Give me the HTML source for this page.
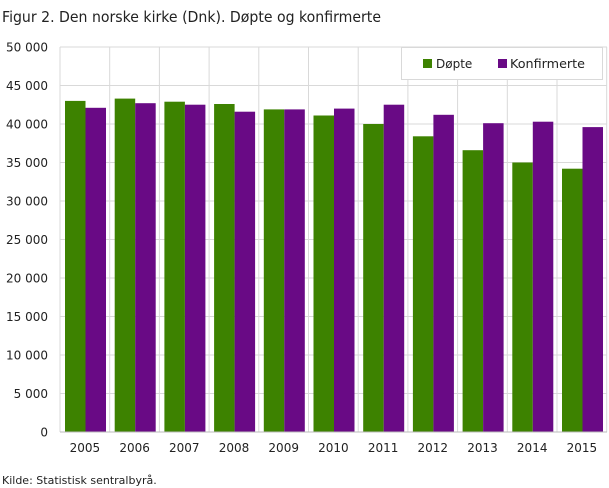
<!DOCTYPE html>
<html><head><meta charset="utf-8"><style>body{margin:0;background:#fff;}</style></head>
<body>
<svg width="609" height="488" xmlns="http://www.w3.org/2000/svg" font-family="DejaVu Sans, Liberation Sans, sans-serif" style="display:block">
<text x="2" y="22" font-size="15" fill="#222" textLength="379" lengthAdjust="spacingAndGlyphs">Figur 2. Den norske kirke (Dnk). Døpte og konfirmerte</text>
<g stroke="#d9d9d9">
<line x1="60" x2="607" y1="393.5" y2="393.5"/><line x1="60" x2="607" y1="355" y2="355"/><line x1="60" x2="607" y1="316.5" y2="316.5"/><line x1="60" x2="607" y1="278" y2="278"/><line x1="60" x2="607" y1="239.5" y2="239.5"/><line x1="60" x2="607" y1="201" y2="201"/><line x1="60" x2="607" y1="162.5" y2="162.5"/><line x1="60" x2="607" y1="124" y2="124"/><line x1="60" x2="607" y1="85.5" y2="85.5"/><line x1="60" x2="607" y1="47" y2="47"/>
<line x1="60" x2="60" y1="47" y2="432"/><line x1="109.7" x2="109.7" y1="47" y2="432"/><line x1="159.4" x2="159.4" y1="47" y2="432"/><line x1="209.1" x2="209.1" y1="47" y2="432"/><line x1="258.8" x2="258.8" y1="47" y2="432"/><line x1="308.5" x2="308.5" y1="47" y2="432"/><line x1="358.2" x2="358.2" y1="47" y2="432"/><line x1="407.9" x2="407.9" y1="47" y2="432"/><line x1="457.6" x2="457.6" y1="47" y2="432"/><line x1="507.3" x2="507.3" y1="47" y2="432"/><line x1="557" x2="557" y1="47" y2="432"/><line x1="606.7" x2="606.7" y1="47" y2="432"/>
</g>
<g font-size="12" fill="#222" text-anchor="end">
<text x="48" y="436.5">0</text><text x="48" y="398">5 000</text><text x="48" y="359.5">10 000</text><text x="48" y="321">15 000</text><text x="48" y="282.5">20 000</text><text x="48" y="244">25 000</text><text x="48" y="205.5">30 000</text><text x="48" y="167">35 000</text><text x="48" y="128.5">40 000</text><text x="48" y="90">45 000</text><text x="48" y="51.5">50 000</text>
</g>
<g fill="#3d8200">
<rect x="65" y="100.9" width="20.5" height="331.1"/><rect x="114.7" y="98.6" width="20.5" height="333.4"/><rect x="164.4" y="101.7" width="20.5" height="330.3"/><rect x="214.1" y="104" width="20.5" height="328"/><rect x="263.8" y="109.4" width="20.5" height="322.6"/><rect x="313.5" y="115.5" width="20.5" height="316.5"/><rect x="363.2" y="124" width="20.5" height="308"/><rect x="412.9" y="136.3" width="20.5" height="295.7"/><rect x="462.6" y="150.2" width="20.5" height="281.8"/><rect x="512.3" y="162.5" width="20.5" height="269.5"/><rect x="562" y="168.7" width="20.5" height="263.3"/>
</g>
<g fill="#690a85">
<rect x="85.5" y="107.8" width="20.5" height="324.2"/><rect x="135.2" y="103.2" width="20.5" height="328.8"/><rect x="184.9" y="104.7" width="20.5" height="327.3"/><rect x="234.6" y="111.7" width="20.5" height="320.3"/><rect x="284.3" y="109.4" width="20.5" height="322.6"/><rect x="334" y="108.6" width="20.5" height="323.4"/><rect x="383.7" y="104.7" width="20.5" height="327.3"/><rect x="433.4" y="114.8" width="20.5" height="317.2"/><rect x="483.1" y="123.2" width="20.5" height="308.8"/><rect x="532.8" y="121.7" width="20.5" height="310.3"/><rect x="582.5" y="127.1" width="20.5" height="304.9"/>
</g>
<line x1="60" x2="607" y1="432" y2="432" stroke="#bbb"/>
<g font-size="12" fill="#222" text-anchor="middle">
<text x="84.9" y="452">2005</text><text x="134.6" y="452">2006</text><text x="184.3" y="452">2007</text><text x="234" y="452">2008</text><text x="283.7" y="452">2009</text><text x="333.4" y="452">2010</text><text x="383.1" y="452">2011</text><text x="432.8" y="452">2012</text><text x="482.5" y="452">2013</text><text x="532.2" y="452">2014</text><text x="581.9" y="452">2015</text>
</g>
<rect x="401.5" y="47.5" width="201" height="32" fill="#fff" stroke="#d9d9d9"/>
<rect x="423" y="59" width="9" height="9" fill="#3d8200"/><text x="436" y="68" font-size="12" fill="#222">Døpte</text>
<rect x="498" y="59" width="9" height="9" fill="#690a85"/><text x="510" y="68" font-size="12" fill="#222" textLength="75" lengthAdjust="spacingAndGlyphs">Konfirmerte</text>
<text x="2" y="484" font-size="11" fill="#222">Kilde: Statistisk sentralbyrå.</text>
</svg>
</body></html>
